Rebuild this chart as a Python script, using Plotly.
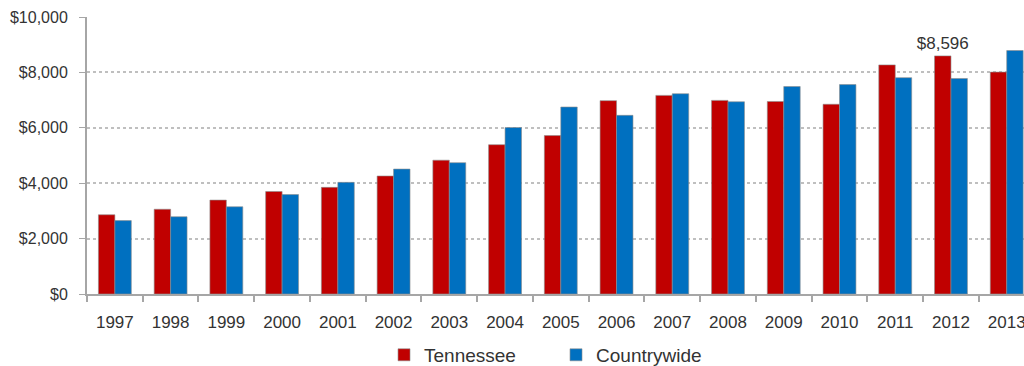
import plotly.graph_objects as go

years = ["1997", "1998", "1999", "2000", "2001", "2002", "2003", "2004", "2005",
         "2006", "2007", "2008", "2009", "2010", "2011", "2012", "2013"]
tennessee = [2860, 3060, 3390, 3700, 3850, 4260, 4830, 5390, 5720,
             6980, 7170, 6990, 6950, 6850, 8270, 8596, 8010]
countrywide = [2650, 2790, 3150, 3590, 4030, 4510, 4740, 6010, 6750,
               6450, 7230, 6940, 7490, 7560, 7810, 7780, 8790]
tn_labels = ["", "", "", "", "", "", "", "", "", "", "", "", "", "", "", "$8,596", ""]
y_ticks = [0, 2000, 4000, 6000, 8000, 10000]
y_ticktext = ["$0", "$2,000", "$4,000", "$6,000", "$8,000", "$10,000"]

FONT = "Liberation Sans, Arial, sans-serif"
TXT = "#333333"

fig = go.Figure()
fig.add_trace(go.Bar(
    x=years, y=tennessee, name="Tennessee",
    marker=dict(color="#C00000", line=dict(color="rgba(140,140,140,0.6)", width=1)),
    text=tn_labels, textposition="outside", cliponaxis=False, constraintext="none",
    textfont=dict(family=FONT, size=17, color=TXT),
))
fig.add_trace(go.Bar(
    x=years, y=countrywide, name="Countrywide",
    marker=dict(color="#0070C0", line=dict(color="rgba(140,140,140,0.6)", width=1)),
))

fig.update_layout(
    width=1024, height=366,
    margin=dict(l=87, r=0, t=17, b=72, autoexpand=False),
    paper_bgcolor="white", plot_bgcolor="white",
    barmode="group", bargap=0.41, bargroupgap=0,
    font=dict(family=FONT, size=17, color=TXT),
    showlegend=True,
    legend=dict(orientation="h", x=0.317, xanchor="left", y=-0.22, yanchor="middle",
                font=dict(family=FONT, size=19, color=TXT),
                entrywidth=127, entrywidthmode="pixels",
                bgcolor="rgba(0,0,0,0)", traceorder="normal"),
    annotations=[dict(text="Source: Fast Track Monitoring System", xref="paper", yref="paper",
                      x=-0.079, y=-0.262, xanchor="left", yanchor="top", showarrow=False,
                      font=dict(family=FONT, size=15, color=TXT))],
)
fig.update_xaxes(
    type="category", range=[-0.5, 16.31], automargin=False,
    showline=True, linecolor="#a6a6a6", linewidth=2,
    ticks="outside", tickson="boundaries", ticklen=6, tickcolor="#a6a6a6", tickwidth=2,
    ticklabelstandoff=12,
    tickfont=dict(family=FONT, size=17, color=TXT),
    showgrid=False,
)
fig.update_yaxes(
    range=[0, 10000], tickvals=y_ticks, ticktext=y_ticktext, automargin=False,
    showline=True, linecolor="#a6a6a6", linewidth=2,
    ticks="outside", ticklen=6, tickcolor="#a6a6a6", tickwidth=1,
    ticklabelstandoff=8,
    tickfont=dict(family=FONT, size=16, color=TXT),
    showgrid=True, gridcolor="#bfbfbf", gridwidth=1.5, griddash="dot",
    zeroline=False,
)

fig.write_html("out.html")
